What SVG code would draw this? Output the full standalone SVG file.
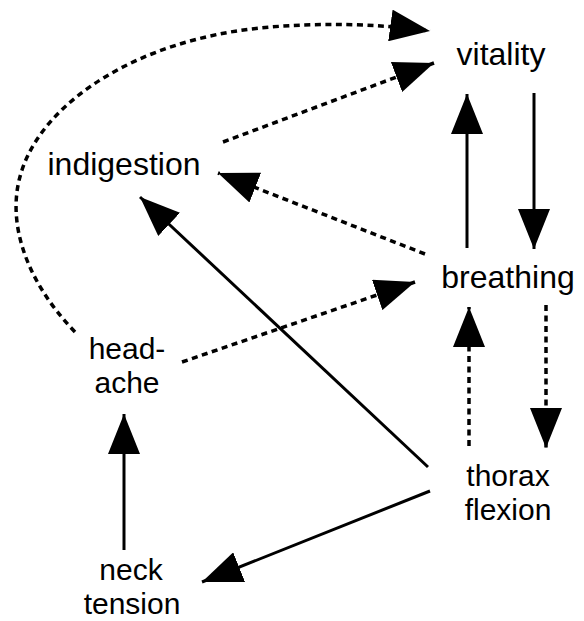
<svg xmlns="http://www.w3.org/2000/svg" width="584" height="621" viewBox="0 0 584 621">
<style>
.lbl{font-family:"Liberation Sans",Arial,sans-serif;font-size:32px;fill:#000;text-anchor:middle}
.ml{font-size:30px}
.sol{fill:none;stroke:#000;stroke-width:3}
.dsh{fill:none;stroke:#000;stroke-width:3.5;stroke-dasharray:6 4.5}
</style>
<defs>
<marker id="ah" markerUnits="userSpaceOnUse" markerWidth="40" markerHeight="32" refX="40" refY="16" orient="auto" viewBox="0 0 40 32">
<path d="M0,0 L40,16 L0,32 z" fill="#000"/>
</marker>
</defs>
<rect width="584" height="621" fill="#fff"/>
<g id="connectors">
<path class="dsh" d="M75,332 C25,280 5,220 22,170 C45,100 140,40 260,28 C320,22 380,24 430,31" marker-end="url(#ah)"/>
<path class="dsh" d="M223,142 L434,63" marker-end="url(#ah)"/>
<path class="dsh" d="M425,254 L218,173" marker-end="url(#ah)"/>
<path class="dsh" d="M182,362 L415,282" marker-end="url(#ah)"/>
<path class="sol" d="M428,467 L140,197" marker-end="url(#ah)"/>
<path class="sol" d="M467,248 L467,94" marker-end="url(#ah)"/>
<path class="sol" d="M534,93 L534,249" marker-end="url(#ah)"/>
<path class="dsh" d="M469,446 L469,307" marker-end="url(#ah)"/>
<path class="dsh" d="M546,305 L546,448" marker-end="url(#ah)"/>
<path class="sol" d="M124,550 L124,414" marker-end="url(#ah)"/>
<path class="sol" d="M430,491 L202,582" marker-end="url(#ah)"/>
</g>
<g id="vitality"><text class="lbl" x="501" y="65">vitality</text></g>
<g id="indigestion"><text class="lbl" x="124" y="175">indigestion</text></g>
<g id="breathing"><text class="lbl" x="508" y="288">breathing</text></g>
<g id="headache"><text class="lbl ml" x="127" y="359">head-</text><text class="lbl ml" x="127" y="393">ache</text></g>
<g id="thorax"><text class="lbl ml" x="508" y="486">thorax</text><text class="lbl ml" x="508" y="520">flexion</text></g>
<g id="neck"><text class="lbl ml" x="131" y="580">neck</text><text class="lbl ml" x="132" y="614">tension</text></g>
</svg>
